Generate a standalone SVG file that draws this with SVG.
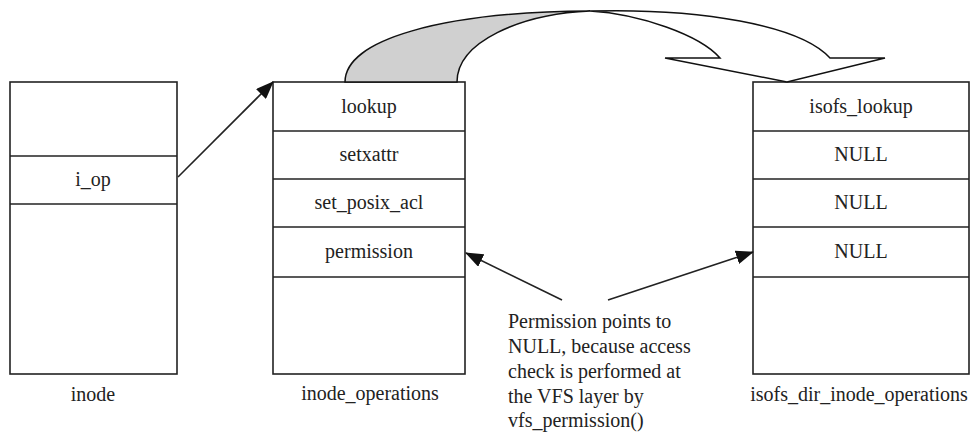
<svg xmlns="http://www.w3.org/2000/svg" width="974" height="433" viewBox="0 0 974 433">
<style>
.box{fill:#fff;stroke:#222;stroke-width:1.6}
.div{stroke:#222;stroke-width:1.4}
text{font-family:"Liberation Serif","Times New Roman",serif;font-size:20px;fill:#222}
.c{text-anchor:middle}
.conn{stroke:#222;stroke-width:1.6;fill:none}
.ribbon{stroke:#111;stroke-width:1.5;stroke-linejoin:miter}
</style>
<defs>
<marker id="ah" viewBox="0 0 18 14" refX="17" refY="7" markerWidth="18" markerHeight="14" markerUnits="userSpaceOnUse" orient="auto">
<path d="M0,0 L18,7 L0,14 Z" fill="#111"/>
</marker>
</defs>
<rect width="974" height="433" fill="#fff"/>

<g id="inode">
<rect class="box" x="10" y="82" width="167" height="292"/>
<line class="div" x1="10" y1="156" x2="177" y2="156"/>
<line class="div" x1="10" y1="204" x2="177" y2="204"/>
<text class="c" x="93" y="186">i_op</text>
<text class="c" x="93" y="401">inode</text>
</g>

<g id="inode_operations">
<rect class="box" x="273" y="82" width="192" height="292"/>
<line class="div" x1="273" y1="131" x2="465" y2="131"/>
<line class="div" x1="273" y1="179" x2="465" y2="179"/>
<line class="div" x1="273" y1="227" x2="465" y2="227"/>
<line class="div" x1="273" y1="277" x2="465" y2="277"/>
<text class="c" x="369" y="113">lookup</text>
<text class="c" x="369" y="161">setxattr</text>
<text class="c" x="369" y="209">set_posix_acl</text>
<text class="c" x="369" y="258">permission</text>
<text class="c" x="370" y="400">inode_operations</text>
</g>

<g id="isofs_dir_inode_operations">
<rect class="box" x="753" y="82" width="216" height="292"/>
<line class="div" x1="753" y1="131" x2="969" y2="131"/>
<line class="div" x1="753" y1="179" x2="969" y2="179"/>
<line class="div" x1="753" y1="227" x2="969" y2="227"/>
<line class="div" x1="753" y1="277" x2="969" y2="277"/>
<text class="c" x="861" y="113">isofs_lookup</text>
<text class="c" x="861" y="161">NULL</text>
<text class="c" x="861" y="209">NULL</text>
<text class="c" x="861" y="258">NULL</text>
<text class="c" x="859" y="401">isofs_dir_inode_operations</text>
</g>

<g id="note">
<text x="508" y="328">Permission points to</text>
<text x="508" y="353">NULL, because access</text>
<text x="508" y="378">check is performed at</text>
<text x="508" y="403">the VFS layer by</text>
<text x="508" y="427">vfs_permission()</text>
</g>

<g id="connectors">
<line class="conn" x1="178" y1="177" x2="273" y2="82" marker-end="url(#ah)"/>
<line class="conn" x1="562" y1="300" x2="466" y2="253" marker-end="url(#ah)"/>
<line class="conn" x1="608" y1="300" x2="753" y2="252" marker-end="url(#ah)"/>
<path class="ribbon" fill="#d0d0d0" d="M345,82 C345,40 440,12 590,11 C520,14 457,42 457,82 Z"/>
<path class="ribbon" fill="#fff" d="M590,11 C700,8 800,25 830,58 L885,58 L787,82 L665,58 L720,58 C700,35 640,14 590,11 Z"/>
</g>
</svg>
